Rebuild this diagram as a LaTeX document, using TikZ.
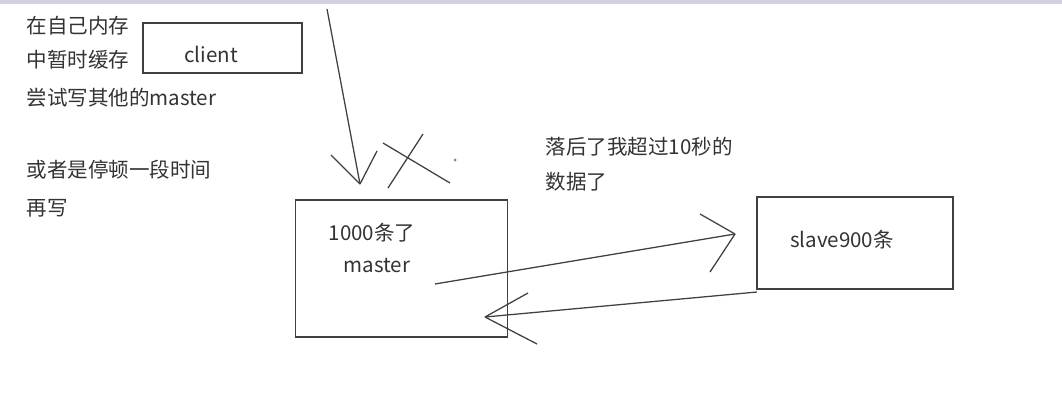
\documentclass[tikz,border=0pt]{standalone}
\usepackage{fontspec}
\setmainfont{Noto Sans CJK SC}
\usetikzlibrary{positioning}

\begin{document}
\begin{tikzpicture}[x=0.025cm, y=-0.025cm, line width=0.9pt,
    font=\fontsize{14.6}{16}\selectfont, text=black!80]
      \useasboundingbox (0,0) rectangle (1062,403);
      \fill[blue!30!black!18] (0,0) rectangle (1062,4);
      \tikzset{box/.style={draw=black!75, line width=1.1pt, inner sep=0},
               pen/.style={draw=black!75, line width=0.9pt},
               note/.style={anchor=west, inner sep=0}}
      % boxes
      \node[box, minimum width=3.975cm, minimum height=1.25cm] (client) at (222.5,48) {};
      \node[box, minimum width=5.3cm, minimum height=3.425cm] (master) at (401.5,268.5) {};
      \node[box, minimum width=4.9cm, minimum height=2.3cm] (slave) at (855,243) {};
      \node[inner sep=0] (clienttxt) at (211,54) {client};
      \node[inner sep=0] (count) at (372,233) {1000条了};
      \node[inner sep=0] (mastertxt) at (377,265) {master};
      \node[inner sep=0] (slavetxt) at (842,240) {slave900条};
      % notes
      \node[note] (n1) at (26,26) {在自己内存};
      \node[note] (n2) at (26,60) {中暂时缓存};
      \node[note] (n3) at (26,98) {尝试写其他的master};
      \node[note] (n4) at (26,170) {或者是停顿一段时间};
      \node[note] (n5) at (26,208) {再写};
      \node[note] (n6) at (545,147) {落后了我超过10秒的};
      \node[note] (n7) at (545,182) {数据了};
      % hand drawn arrows
      \coordinate (w0) at (327,9);
      \coordinate (w1) at (360,184);
      \coordinate (w1l) at (331,155);
      \coordinate (w1r) at (377,151);
      \coordinate (xa) at (383,143);
      \coordinate (xb) at (450,183);
      \coordinate (xc) at (423,134);
      \coordinate (xd) at (388,188);
      \coordinate (r0) at (435,284);
      \coordinate (r1) at (735,234);
      \coordinate (r1l) at (700,214);
      \coordinate (r1r) at (710,272);
      \coordinate (s0) at (757,292);
      \coordinate (s1) at (485,317);
      \coordinate (s1l) at (528,293);
      \coordinate (s1r) at (537,344);
      \foreach \a/\b in {w0/w1, w1l/w1, w1r/w1, xa/xb, xc/xd,
                         r0/r1, r1l/r1, r1r/r1, s0/s1, s1l/s1, s1r/s1} {
        \draw[pen] (\a) -- (\b);
      }
      \fill[black!50] (455,160) circle (1.5);
    \end{tikzpicture}
\end{document}
